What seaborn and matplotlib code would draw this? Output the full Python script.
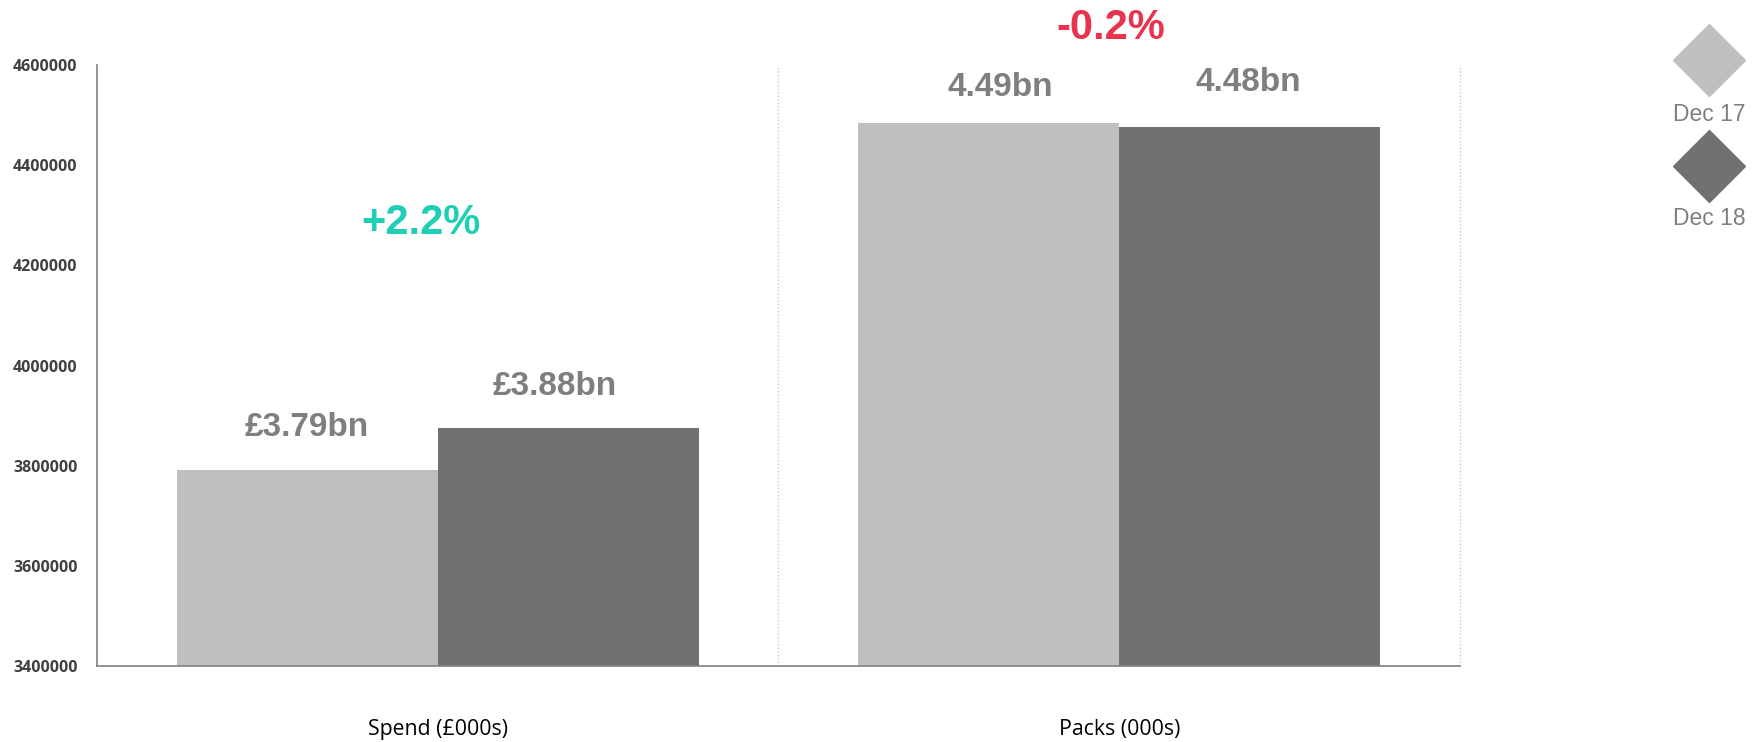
import pandas as pd
import seaborn as sns
import matplotlib.pyplot as plt

#=====================================================
# Data
#=====================================================
categories = ['Spend (£000s)', 'Packs (000s)']
periods = ['Dec 17', 'Dec 18']
dec17_values = [3791000, 4485000]
dec18_values = [3875000, 4476000]
bar_labels_dec17 = ['£3.79bn', '4.49bn']
bar_labels_dec18 = ['£3.88bn', '4.48bn']
change_labels = ['+2.2%', '-0.2%']
change_y = [4285000, 4674000]
y_ticks = [3400000, 3600000, 3800000, 4000000, 4200000, 4400000, 4600000]

df = pd.DataFrame({
    'category': categories * 2,
    'period': [periods[0]] * 2 + [periods[1]] * 2,
    'value': dec17_values + dec18_values,
})

#-----------------------------------------------------
# Style
#-----------------------------------------------------
light_grey = '#bfbfbf'
dark_grey = '#717171'
text_grey = '#7f7f7f'
change_colors = ['#1ecfb6', '#e8334f']
# label offsets in points (patch order: Dec17 spend, Dec17 packs, Dec18 spend, Dec18 packs)
label_dx = [0, 8, -10, -1]
label_dy = [31, 25, 30, 32]

sns.set_style('white')
plt.rcParams['font.family'] = ['Liberation Sans', 'DejaVu Sans']

fig = plt.figure(figsize=(17.62, 7.42), dpi=100)
ax = fig.add_axes([0.055, 0.1024, 0.7736, 0.81])

sns.barplot(data=df, x='category', y='value', hue='period', order=categories,
            hue_order=periods, palette=[light_grey, dark_grey], width=0.766,
            gap=0, saturation=1, linewidth=0, ax=ax, legend=False)

ax.set_ylim(y_ticks[0], y_ticks[-1])
ax.set_xlim(-0.5, 1.5)
ax.set_yticks(y_ticks)
ax.set_yticklabels([str(t) for t in y_ticks], fontsize=11.5, fontweight='bold',
                   color='#404040', family='Open Sans')
ax.tick_params(axis='y', length=0, pad=14)
ax.tick_params(axis='x', length=0, pad=38)
for lbl in ax.get_xticklabels():
    lbl.set_family('Open Sans')
    lbl.set_fontsize(15.3)
    lbl.set_color('#000000')
ax.set_xlabel('')
ax.set_ylabel('')

for side in ['top', 'right']:
    ax.spines[side].set_visible(False)
for side in ['left', 'bottom']:
    ax.spines[side].set_color('#808080')
    ax.spines[side].set_linewidth(1.2)

# dotted category separators
for xv in [0.5, 1.5]:
    ax.axvline(xv, color='#c8c8c8', linestyle=(0, (1, 1.5)), linewidth=1, clip_on=False)

# value labels above bars
labels = bar_labels_dec17 + bar_labels_dec18
for patch, text, dx, dy in zip(ax.patches, labels, label_dx, label_dy):
    ax.annotate(text, (patch.get_x() + patch.get_width() / 2, patch.get_height()),
                xytext=(dx, dy), textcoords='offset points', ha='center', va='center',
                fontsize=24, fontweight='bold', color=text_grey)

# change labels
for i, (text, yv, col) in enumerate(zip(change_labels, change_y, change_colors)):
    ax.text(i - 0.025 if i == 0 else i - 0.012, yv, text, ha='center', va='center',
            fontsize=30, fontweight='bold', color=col, clip_on=False)

# legend: diamonds with labels underneath
legend_y = [0.919, 0.776]
label_y = [0.846, 0.705]
for col, name, ly, ty in zip([light_grey, dark_grey], periods, legend_y, label_y):
    fig.add_artist(plt.Line2D([0.97], [ly], marker='D', markersize=37,
                              color=col, linestyle='none',
                              transform=fig.transFigure))
    fig.text(0.97, ty, name, ha='center', va='center', fontsize=16.5,
             color=text_grey)

plt.savefig('out.png', dpi=100)
